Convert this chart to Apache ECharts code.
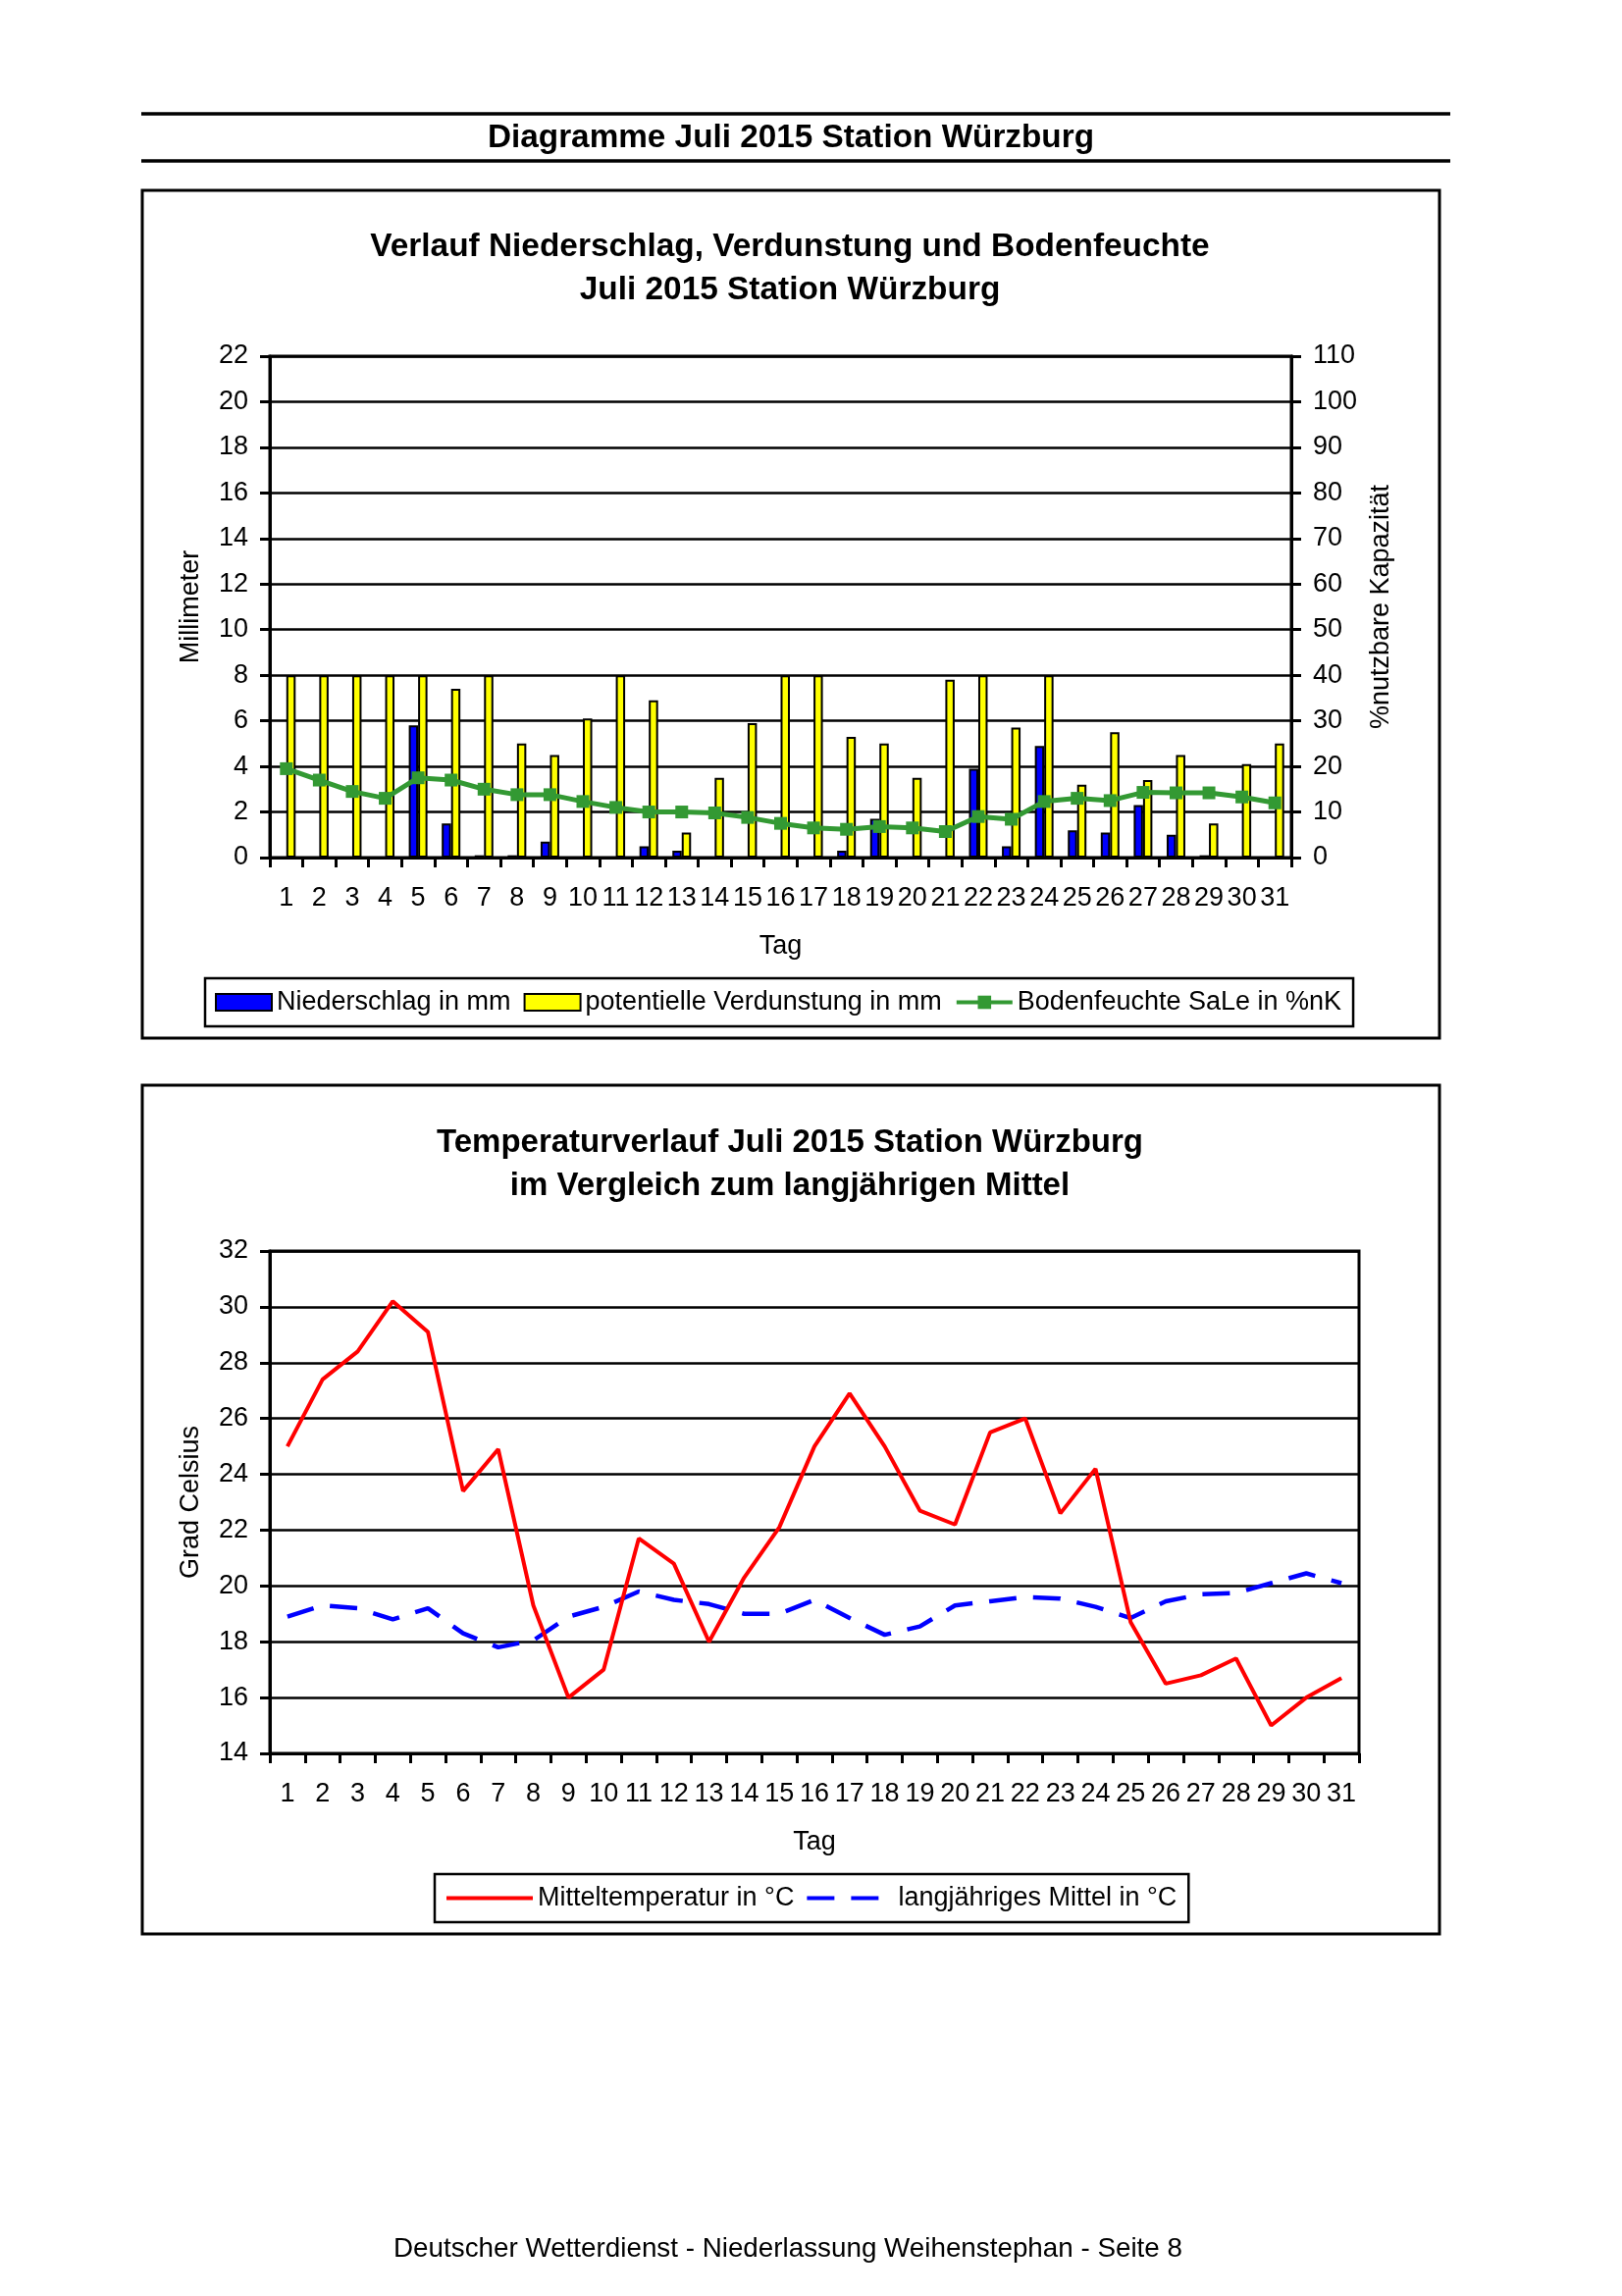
<!DOCTYPE html>
<html>
<head>
<meta charset="utf-8">
<script src="https://cdn.jsdelivr.net/npm/echarts@6/dist/echarts.min.js"></script>
<style>
html,body{margin:0;padding:0;background:#fff;}
#c{width:1653px;height:2340px;}
</style>
</head>
<body>
<div id="c"></div>
<script>
// ---- Data ----
const days = ['1','2','3','4','5','6','7','8','9','10','11','12','13','14','15','16','17','18','19','20','21','22','23','24','25','26','27','28','29','30','31'];
// Niederschlag in mm
const niederschlag = [0,0,0,0,5.8,1.5,0.1,0.1,0.7,0,0,0.5,0.3,0,0,0,0,0.3,1.7,0,0,3.9,0.5,4.9,1.2,1.1,2.3,1.0,0.1,0,0];
// potentielle Verdunstung in mm
const verdunstung = [8,8,8,8,8,7.4,8,5.0,4.5,6.1,8,6.9,1.1,3.5,5.9,8,8,5.3,5.0,3.5,7.8,8,5.7,8,3.2,5.5,3.4,4.5,1.5,4.1,5.0];
// Bodenfeuchte SaLe in %nK
const bodenfeuchte = [19.5,17,14.5,13,17.5,17,15,13.8,13.8,12.3,11,10,10,9.8,8.8,7.5,6.5,6.2,6.8,6.5,5.7,9,8.4,12.3,13,12.5,14.3,14.2,14.2,13.3,12];
// Mitteltemperatur in °C
const mitteltemp = [25.0,27.4,28.4,30.2,29.1,23.4,24.9,19.3,16.0,17.0,21.7,20.8,18.0,20.3,22.1,25.0,26.9,25.0,22.7,22.2,25.5,26.0,22.6,24.2,18.7,16.5,16.8,17.4,15.0,16.0,16.7];
// langjähriges Mittel in °C
const langjMittel = [18.9,19.3,19.2,18.8,19.2,18.3,17.8,18.05,18.9,19.25,19.8,19.5,19.35,19.0,19.0,19.5,18.85,18.25,18.55,19.3,19.45,19.6,19.55,19.25,18.85,19.45,19.7,19.75,20.1,20.45,20.1];

// axis ranges
const mmAxis = {min:0, max:22, interval:2};
const pctAxis = {min:0, max:110, interval:10};
const tempAxis = {min:14, max:32, interval:2};

const FONT = '"Liberation Sans", Arial, Helvetica, sans-serif';
const BLACK = '#000';

function txt(x, y, text, size, bold) {
  return {
    type:'text', x:x, y:y, silent:true,
    style:{
      text:text, x:0, y:0,
      font:(bold?'bold ':'') + size + 'px ' + FONT,
      fill:BLACK,
      textAlign:'center', textVerticalAlign:'middle',
      align:'center', verticalAlign:'middle'
    }
  };
}

function xAxisCfg(gi) {
  return {
    gridIndex:gi, type:'category', data:days, boundaryGap:true,
    axisLine:{show:true, lineStyle:{color:BLACK, width:3}},
    axisTick:{show:true, length:10, alignWithLabel:false, lineStyle:{color:BLACK, width:3}},
    axisLabel:{interval:0, fontSize:27, color:BLACK, margin:28, fontFamily:FONT},
    splitLine:{show:false},
    name:'Tag', nameLocation:'middle', nameGap:77,
    nameTextStyle:{fontSize:27, color:BLACK, fontFamily:FONT}
  };
}

function yAxisCfg(gi, rng, pos, name, gap, grid) {
  return {
    gridIndex:gi, type:'value', position:pos,
    min:rng.min, max:rng.max, interval:rng.interval,
    axisLine:{show:true, lineStyle:{color:BLACK, width:3}},
    axisTick:{show:true, length:10, lineStyle:{color:BLACK, width:3}},
    axisLabel:{fontSize:27, color:BLACK, margin:22, fontFamily:FONT},
    splitLine:{show:grid, lineStyle:{color:BLACK, width:2.5}},
    name:name, nameLocation:'middle', nameGap:gap, nameRotate:90,
    nameTextStyle:{fontSize:27, color:BLACK, fontFamily:FONT}
  };
}

const chart = echarts.init(document.getElementById('c'), null, {renderer:'canvas'});

const option = {
  backgroundColor:'#fff',
  animation:false,
  textStyle:{fontFamily:FONT, color:BLACK},
  graphic:[
    {type:'line', silent:true, shape:{x1:144, y1:116, x2:1478, y2:116}, style:{stroke:BLACK, lineWidth:3.5}},
    {type:'line', silent:true, shape:{x1:144, y1:164, x2:1478, y2:164}, style:{stroke:BLACK, lineWidth:3.5}},
    txt(806, 141, 'Diagramme Juli 2015 Station Würzburg', 33.3, true),
    {type:'rect', silent:true, shape:{x:145, y:194, width:1322, height:864}, style:{fill:null, stroke:BLACK, lineWidth:3}},
    {type:'rect', silent:true, shape:{x:145, y:1106, width:1322, height:865}, style:{fill:null, stroke:BLACK, lineWidth:3}},
    txt(805, 252, 'Verlauf Niederschlag, Verdunstung und Bodenfeuchte', 33.4, true),
    txt(805, 296, 'Juli 2015 Station Würzburg', 33.4, true),
    txt(805, 1165, 'Temperaturverlauf Juli 2015 Station Würzburg', 33, true),
    txt(805, 1209, 'im Vergleich zum langjährigen Mittel', 33, true),
    txt(803, 2292, 'Deutscher Wetterdienst - Niederlassung Weihenstephan - Seite 8', 27.8, false)
  ],
  legend:[
    {
      left:209, top:997, orient:'horizontal',
      itemWidth:57, itemHeight:17, itemGap:13,
      padding:[11,12,11,10],
      borderColor:BLACK, borderWidth:2.5,
      textStyle:{fontSize:27, color:BLACK, fontFamily:FONT},
      lineStyle:{width:4},
      selectedMode:false,
      data:[
        {name:'Niederschlag in mm', icon:'rect'},
        {name:'potentielle Verdunstung in mm', icon:'rect'},
        {name:'Bodenfeuchte SaLe in %nK'}
      ]
    },
    {
      left:443, top:1910, orient:'horizontal',
      itemWidth:88, itemHeight:17, itemGap:11,
      padding:[11,12,11,10],
      borderColor:BLACK, borderWidth:2.5,
      textStyle:{fontSize:27, color:BLACK, fontFamily:FONT},
      lineStyle:{width:4},
      selectedMode:false,
      data:[
        {name:'Mitteltemperatur in °C', itemStyle:{opacity:0}},
        {name:'langjähriges Mittel in °C', itemStyle:{opacity:0}}
      ]
    }
  ],
  grid:[
    {left:275, top:363, width:1041, height:511, show:true, borderColor:BLACK, borderWidth:3, backgroundColor:'transparent'},
    {left:275, top:1275, width:1110, height:512, show:true, borderColor:BLACK, borderWidth:3, backgroundColor:'transparent'}
  ],
  xAxis:[xAxisCfg(0), xAxisCfg(1)],
  yAxis:[
    yAxisCfg(0, mmAxis, 'left', 'Millimeter', 67, true),
    yAxisCfg(0, pctAxis, 'right', '%nutzbare Kapazität', 75, false),
    yAxisCfg(1, tempAxis, 'left', 'Grad Celsius', 67, true)
  ],
  series:[
    {
      name:'Niederschlag in mm', type:'bar', xAxisIndex:0, yAxisIndex:0,
      data:niederschlag.map(v => v > 0 ? v : '-'),
      barWidth:9.5, barGap:'0%',
      itemStyle:{color:'#0000FF', borderColor:BLACK, borderWidth:2}
    },
    {
      name:'potentielle Verdunstung in mm', type:'bar', xAxisIndex:0, yAxisIndex:0,
      data:verdunstung,
      barWidth:9.5, barGap:'0%',
      itemStyle:{color:'#FFFF00', borderColor:BLACK, borderWidth:2}
    },
    {
      name:'Bodenfeuchte SaLe in %nK', type:'line', xAxisIndex:0, yAxisIndex:1,
      data:bodenfeuchte, symbol:'rect', symbolSize:13, z:5,
      lineStyle:{color:'#339933', width:5},
      itemStyle:{color:'#339933'}
    },
    {
      name:'Mitteltemperatur in °C', type:'line', xAxisIndex:1, yAxisIndex:2,
      data:mitteltemp, symbol:'none', z:5,
      lineStyle:{color:'#FF0000', width:4},
      itemStyle:{color:'#FF0000'}
    },
    {
      name:'langjähriges Mittel in °C', type:'line', xAxisIndex:1, yAxisIndex:2,
      data:langjMittel, symbol:'none', z:4,
      lineStyle:{color:'#0000FF', width:4.5, type:[28,17]},
      itemStyle:{color:'#0000FF'}
    }
  ]
};
chart.setOption(option);
</script>
</body>
</html>
